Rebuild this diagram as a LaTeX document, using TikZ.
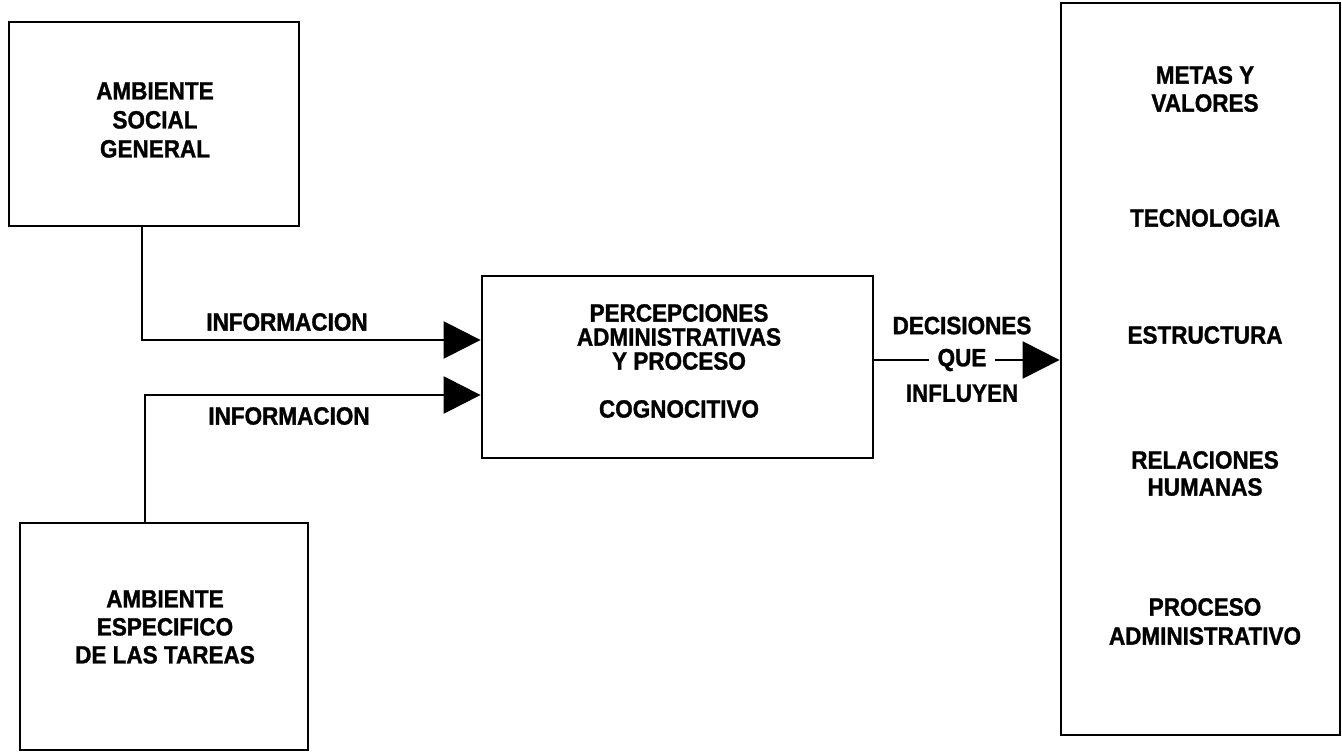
\documentclass[tikz,border=0pt]{standalone}
\usepackage{fontspec}
\setmainfont{Liberation Sans}[FakeStretch=0.9, BoldFeatures={FakeBold=1.2}]
\usetikzlibrary{positioning,arrows.meta}

\begin{document}
\begin{tikzpicture}[
    x=1pt, y=-1pt,
    every node/.style={font=\fontsize{25}{29}\selectfont\bfseries},
    caja/.style={draw, line width=2.8pt, inner sep=0pt},
    texto/.style={align=center, inner sep=1pt},
    flecha/.style={-{Triangle[length=37pt,width=37pt]}, line width=2.4pt},
]
\useasboundingbox (0,0) rectangle (1342,752);

% Cajas
\node[caja, minimum width=290pt, minimum height=204pt] (social) at (154,124) {};
\node[caja, minimum width=288pt, minimum height=227pt] (tareas) at (164,636.5) {};
\node[caja, minimum width=391pt, minimum height=182pt] (percep) at (677.5,367) {};
\node[caja, minimum width=279pt, minimum height=732pt] (sistema) at (1200.5,369) {};

% Textos de las cajas
\node[texto] (socialTxt) at (155,120) {AMBIENTE\\SOCIAL\\GENERAL};
\node[texto, font=\fontsize{25}{28}\selectfont\bfseries] (tareasTxt) at (165,627)
    {AMBIENTE\\ESPECIFICO\\DE LAS TAREAS};
\node[texto] (percepTxt) at (679,361)
    {PERCEPCIONES\\[-5pt]ADMINISTRATIVAS\\[-5pt]Y PROCESO\\[19pt]COGNOCITIVO};

\node[texto, font=\fontsize{25}{28}\selectfont\bfseries] (metas) at (1205,89) {METAS Y\\VALORES};
\node[texto] (tecno) at (1205,218) {TECNOLOGIA};
\node[texto] (estruc) at (1205,335) {ESTRUCTURA};
\node[texto, font=\fontsize{25}{27}\selectfont\bfseries] (relac) at (1205,473.5) {RELACIONES\\HUMANAS};
\node[texto, font=\fontsize{25}{29}\selectfont\bfseries] (proceso) at (1205,621.5) {PROCESO\\ADMINISTRATIVO};

% Conectores
\coordinate (c1) at (142,340);
\coordinate (c2) at (145,395);
\coordinate (c3) at (0,360);
\draw[flecha] (c1 |- social.south) -- (c1) -- (c1 -| percep.west);
\draw[flecha] (c2 |- tareas.north) -- (c2) -- (c2 -| percep.west);
\draw[flecha] (percep.east |- c3) -- (sistema.west |- c3);

% Rotulos
\node[texto] (info1) at (287,322) {INFORMACION};
\node[texto] (info2) at (289,416) {INFORMACION};
\node[texto, fill=white, inner xsep=9pt] (que) at (962,360) {QUE};
\node[texto, above=12pt of que] (decis) {DECISIONES};
\node[texto, below=11pt of que] (influ) {INFLUYEN};
\end{tikzpicture}
\end{document}
